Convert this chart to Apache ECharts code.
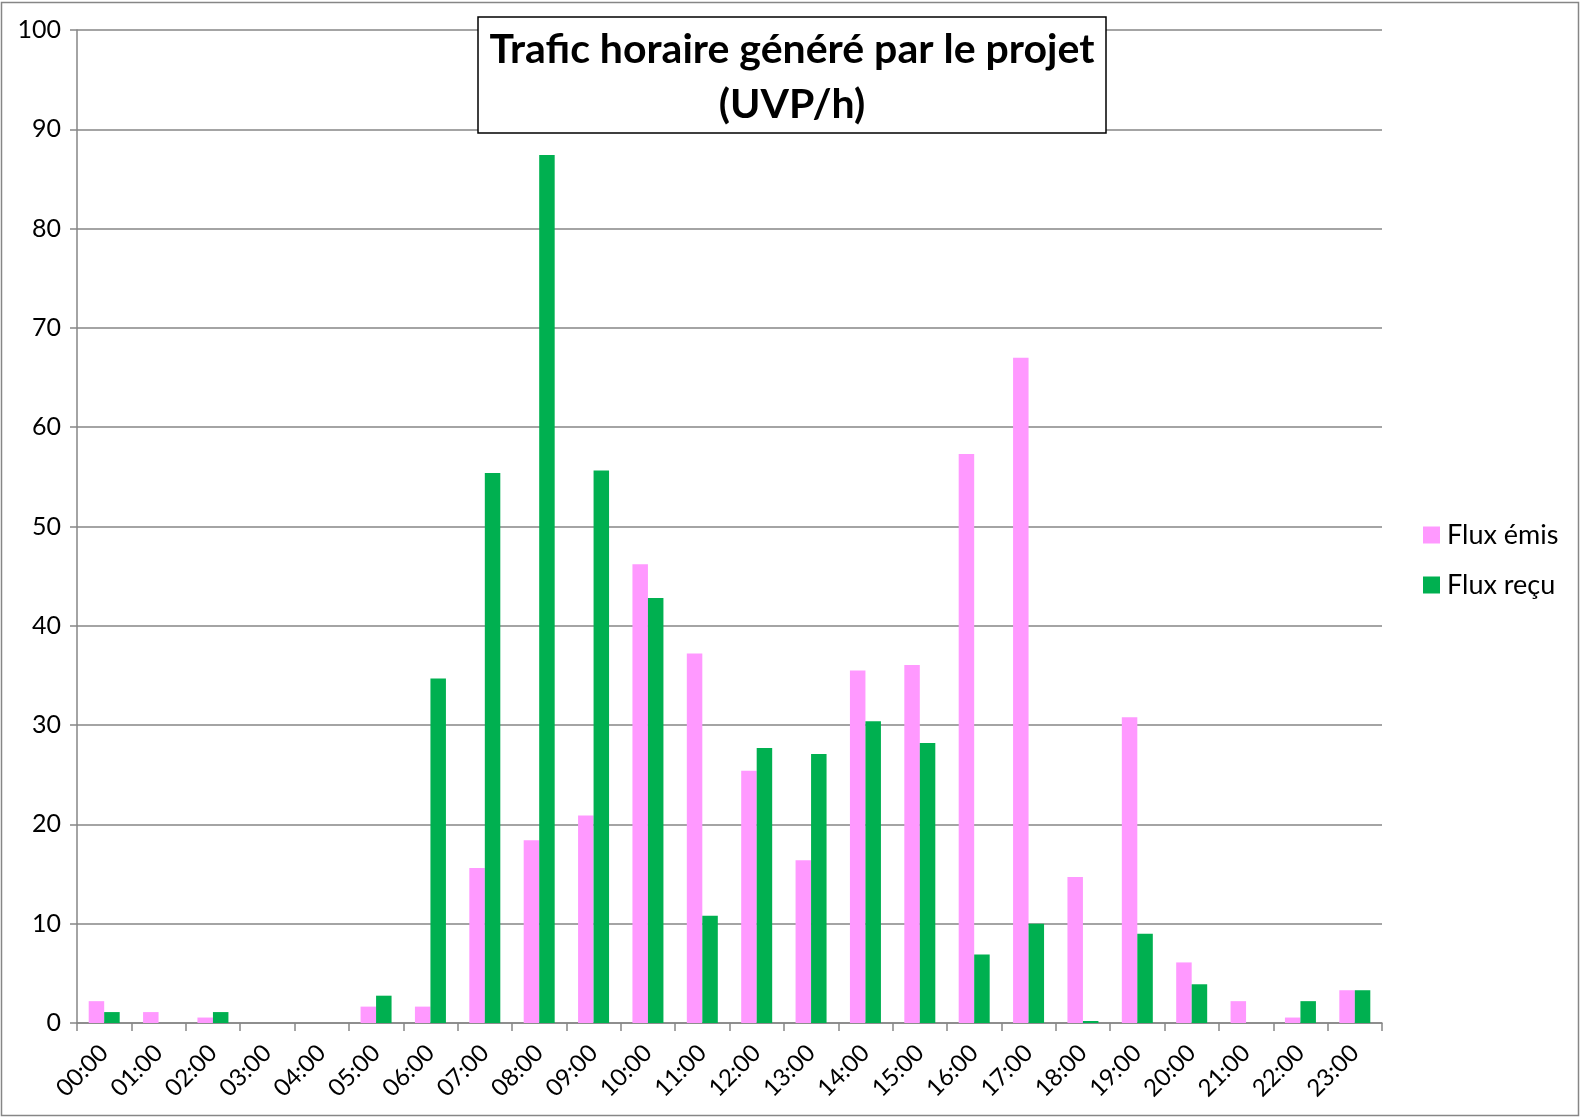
<!DOCTYPE html>
<html>
<head>
<meta charset="utf-8">
<script src="https://cdn.jsdelivr.net/npm/echarts@6/dist/echarts.min.js"></script>
<style>
html,body{margin:0;padding:0;background:#fff;}
#chart{width:1581px;height:1118px;}
</style>
</head>
<body>
<div id="chart"></div>
<script>
const hours = ['00:00','01:00','02:00','03:00','04:00','05:00','06:00','07:00','08:00','09:00','10:00','11:00','12:00','13:00','14:00','15:00','16:00','17:00','18:00','19:00','20:00','21:00','22:00','23:00'];
const fluxEmis = [2.2, 1.1, 0.55, 0, 0, 1.65, 1.65, 15.6, 18.4, 20.9, 46.2, 37.2, 25.4, 16.4, 35.5, 36.05, 57.3, 67.0, 14.7, 30.8, 6.1, 2.2, 0.55, 3.3];
const fluxRecu = [1.1, 0, 1.1, 0, 0, 2.75, 34.7, 55.4, 87.4, 55.65, 42.8, 10.8, 27.7, 27.1, 30.4, 28.2, 6.9, 10.0, 0.2, 9.0, 3.9, 0, 2.2, 3.3];
const seriesNames = ['Flux émis', 'Flux reçu'];
const titleText = 'Trafic horaire généré par le projet\n(UVP/h)';

const chart = echarts.init(document.getElementById('chart'), null, {renderer: 'canvas'});
const axisGrey = '#868686';
const font = 'Lato, "Open Sans", sans-serif';
chart.setOption({
  animation: false,
  backgroundColor: '#ffffff',
  graphic: [
    {
      type: 'rect', z: -1, silent: true,
      shape: {x: 1.5, y: 2.5, width: 1577, height: 1113},
      style: {fill: '#ffffff', stroke: axisGrey, lineWidth: 1.5}
    },
    {
      type: 'rect', z: 100, silent: true,
      shape: {x: 478, y: 17, width: 628, height: 116},
      style: {fill: '#ffffff', stroke: '#000', lineWidth: 1.5}
    },
    {
      type: 'text', z: 101, silent: true,
      x: 792, y: 22,
      style: {
        text: titleText, align: 'center', verticalAlign: 'top',
        font: 'bold 41px ' + font, lineHeight: 55, fill: '#000'
      }
    }
  ],
  legend: {
    orient: 'vertical',
    left: 1418,
    top: 515,
    itemWidth: 17,
    itemHeight: 17,
    itemGap: 20,
    icon: 'rect',
    data: seriesNames,
    textStyle: {fontFamily: font, fontSize: 27, color: '#000', lineHeight: 30, padding: [0,0,0,2]}
  },
  grid: {left: 77, right: 199, top: 30, bottom: 95, containLabel: false},
  xAxis: {
    type: 'category',
    data: hours,
    boundaryGap: true,
    axisLine: {lineStyle: {color: axisGrey, width: 1.5}},
    axisTick: {show: true, length: 8, interval: 0, lineStyle: {color: axisGrey, width: 1.5}},
    axisLabel: {interval: 0, rotate: 45, margin: 26, fontFamily: font, fontSize: 24, color: '#000'}
  },
  yAxis: {
    type: 'value',
    min: 0, max: 100, interval: 10,
    axisLine: {show: true, lineStyle: {color: axisGrey, width: 1.5}},
    axisTick: {show: true, length: 7, lineStyle: {color: axisGrey, width: 1.5}},
    axisLabel: {margin: 16, fontFamily: font, fontSize: 25, color: '#000'},
    splitLine: {show: true, lineStyle: {color: axisGrey, width: 1.5}}
  },
  series: [
    {name: seriesNames[0], type: 'bar', data: fluxEmis, barGap: '0%', barCategoryGap: '43%',
     itemStyle: {color: '#FF99FF'}},
    {name: seriesNames[1], type: 'bar', data: fluxRecu, barGap: '0%', barCategoryGap: '43%',
     itemStyle: {color: '#00B050'}}
  ]
});
</script>
</body>
</html>
